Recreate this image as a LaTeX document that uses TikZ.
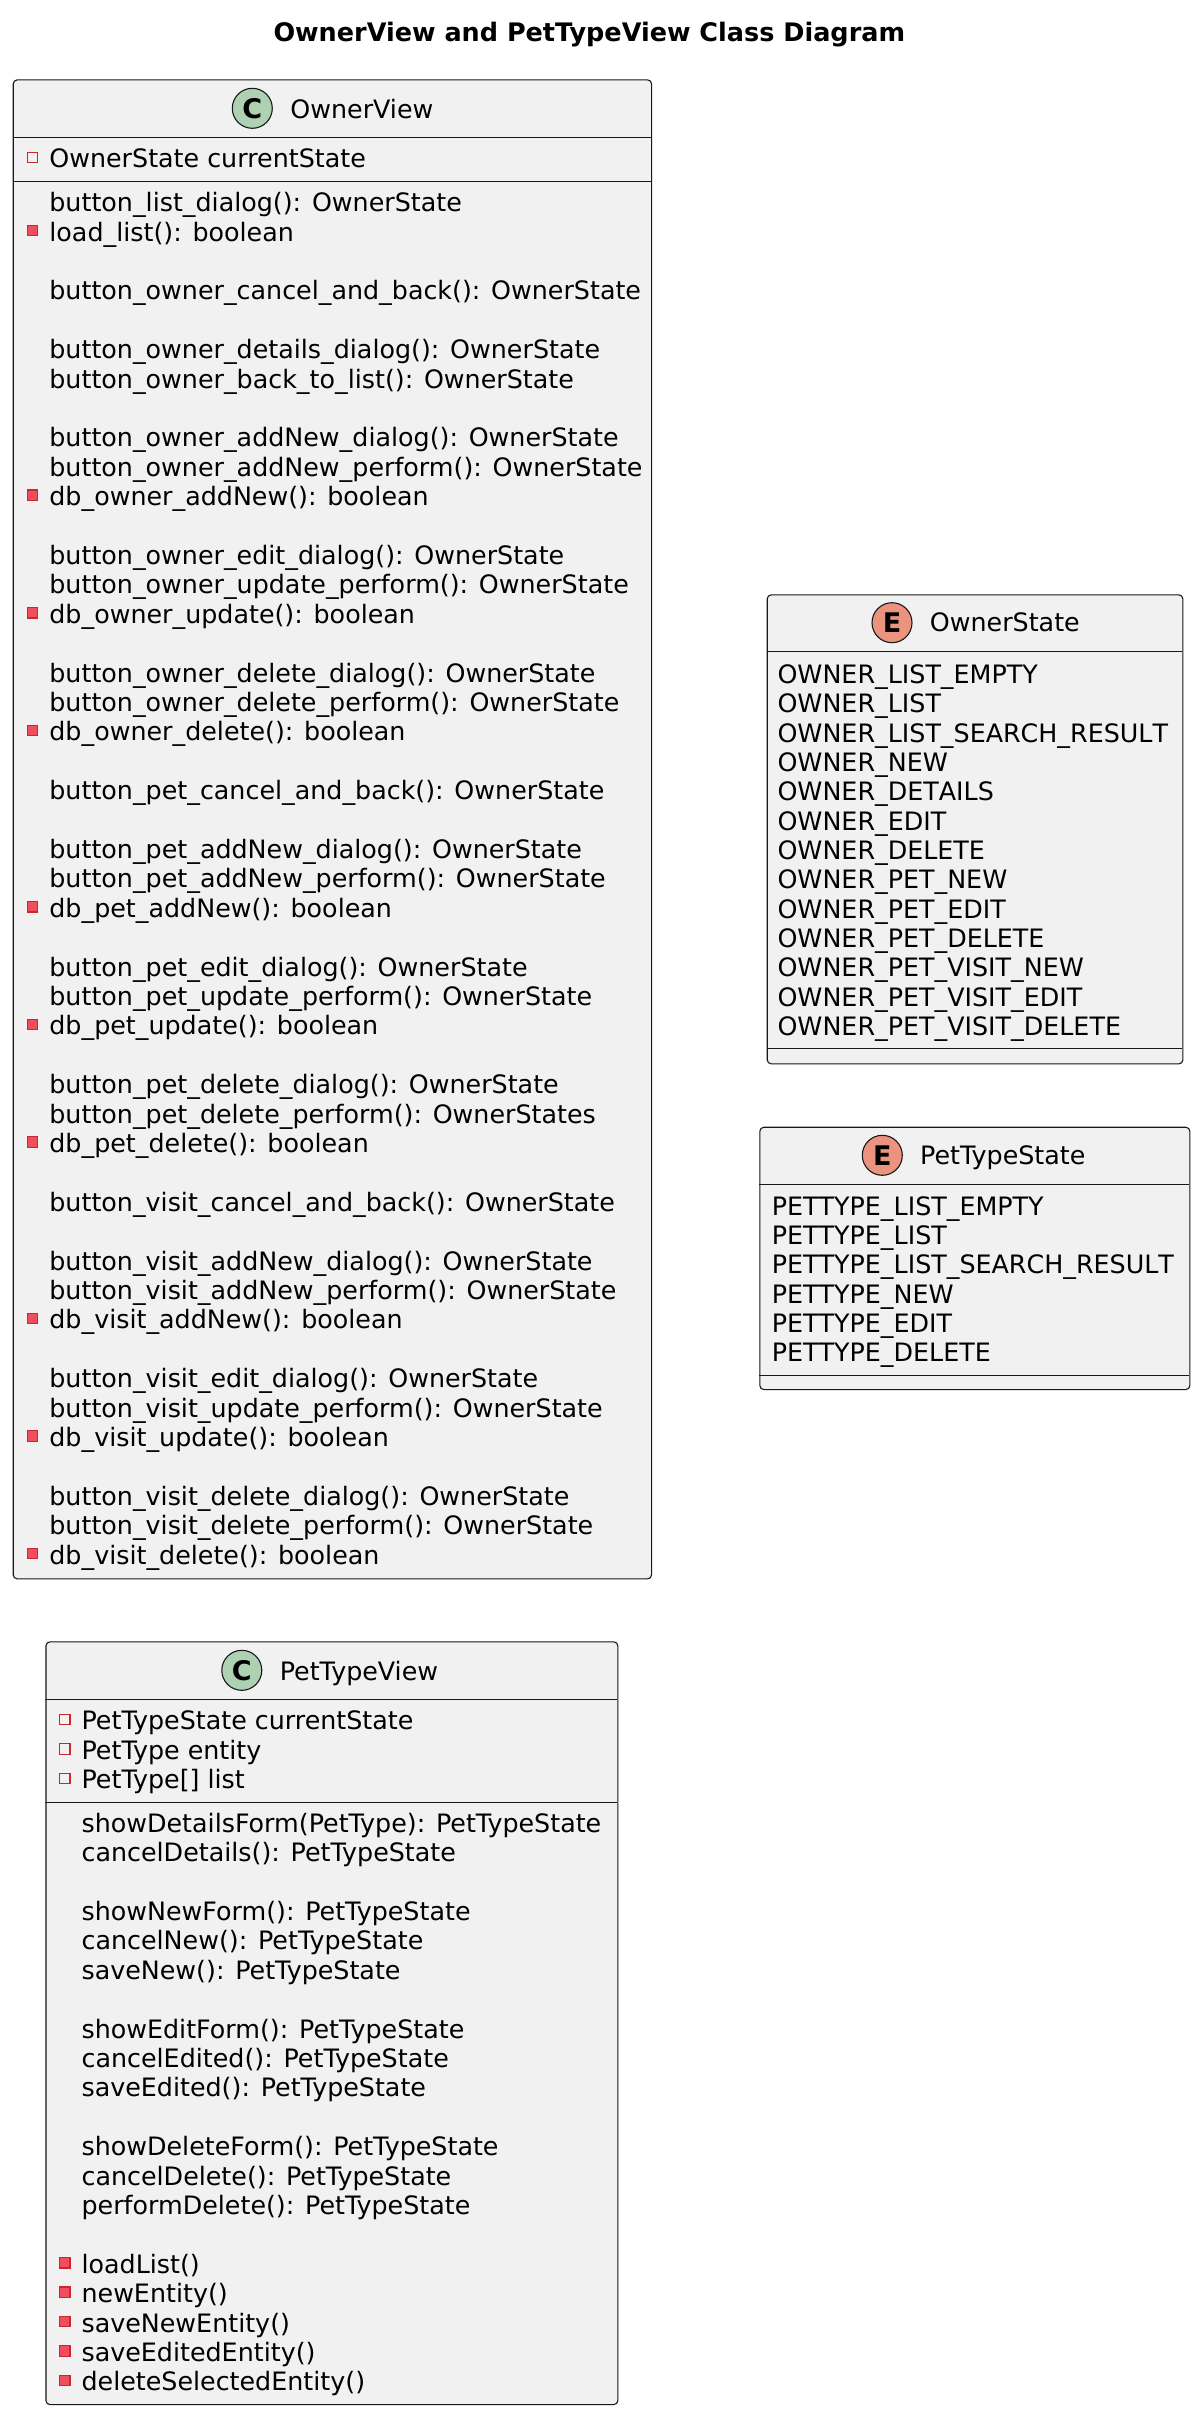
\documentclass[tikz,border=0pt]{standalone}
\usepackage{fontspec}
\setmainfont{DejaVu Sans}
\newfontfamily\enumfont{DejaVu Sans}[Kerning=Off]
\definecolor{boxfill}{HTML}{F1F1F1}
\definecolor{lineclr}{HTML}{181818}
\definecolor{privred}{HTML}{C82930}
\definecolor{privfill}{HTML}{F24D5C}
\definecolor{classgreen}{HTML}{ADD1B2}
\definecolor{enumred}{HTML}{EB937F}
\tikzset{
  umlbox/.style={draw=lineclr, fill=boxfill, line width=1.1pt, rounded corners=4pt, inner sep=0pt, anchor=north west},
  sepline/.style={draw=lineclr, line width=1pt},
  txt/.style={anchor=base west, inner sep=0pt, font=\fontsize{25.35}{29.4}\selectfont},
  enumtxt/.style={anchor=base west, inner sep=0pt, font=\fontsize{25.35}{29.4}\enumfont},
  titletxt/.style={anchor=base, inner sep=0pt, font=\fontsize{25.5}{29.4}\selectfont\bfseries},
  privf/.style={draw=privred, line width=1.2pt, fill=none},
  privm/.style={draw=privred, line width=1.2pt, fill=privfill},
  ccircle/.style={circle, draw=lineclr, line width=1.1pt, fill=classgreen, minimum size=40pt, inner sep=0pt},
  ecircle/.style={circle, draw=lineclr, line width=1.1pt, fill=enumred, minimum size=40pt, inner sep=0pt},
  letter/.style={inner sep=0pt, font=\fontsize{27}{27}\selectfont\bfseries}
}
\begin{document}
\begin{tikzpicture}[x=1pt,y=-1pt]
\fill[white] (0,0) rectangle (1200,2415);
\useasboundingbox (0,0) rectangle (1200,2415);

% title
\node[titletxt] (title) at (589.3,41.5) {OwnerView and PetTypeView Class Diagram};

% ===== OwnerView =====
\node[umlbox, minimum width=638.3pt, minimum height=1499pt] (ov) at (12.7,79.3) {};
\draw[sepline] (12.7,137.5) -- (651,137.5);
\draw[sepline] (12.7,181.5) -- (651,181.5);
\node[ccircle] (ovc) at (252.3,108.3) {};
\node[letter] (ovcl) at (ovc.center) {C};
\node[txt] (ovname) at (290.2,118.3) {OwnerView};
\draw[privf] (27.3,152.3) rectangle ++(10.4,10.4);
\node[txt] (ova1) at (49.2,167.7) {OwnerState currentState};
\foreach \i/\t in {
  0/button\_list\_dialog(): OwnerState,
  3/button\_owner\_cancel\_and\_back(): OwnerState,
  5/button\_owner\_details\_dialog(): OwnerState,
  6/button\_owner\_back\_to\_list(): OwnerState,
  8/button\_owner\_addNew\_dialog(): OwnerState,
  9/button\_owner\_addNew\_perform(): OwnerState,
  12/button\_owner\_edit\_dialog(): OwnerState,
  13/button\_owner\_update\_perform(): OwnerState,
  16/button\_owner\_delete\_dialog(): OwnerState,
  17/button\_owner\_delete\_perform(): OwnerState,
  20/button\_pet\_cancel\_and\_back(): OwnerState,
  22/button\_pet\_addNew\_dialog(): OwnerState,
  23/button\_pet\_addNew\_perform(): OwnerState,
  26/button\_pet\_edit\_dialog(): OwnerState,
  27/button\_pet\_update\_perform(): OwnerState,
  30/button\_pet\_delete\_dialog(): OwnerState,
  31/button\_pet\_delete\_perform(): OwnerStates,
  34/button\_visit\_cancel\_and\_back(): OwnerState,
  36/button\_visit\_addNew\_dialog(): OwnerState,
  37/button\_visit\_addNew\_perform(): OwnerState,
  40/button\_visit\_edit\_dialog(): OwnerState,
  41/button\_visit\_update\_perform(): OwnerState,
  44/button\_visit\_delete\_dialog(): OwnerState,
  45/button\_visit\_delete\_perform(): OwnerState}
  {\node[txt] (ovm\i) at (49.2,211.7+\i*29.4) {\t};}
\foreach \i/\t in {
  1/load\_list(): boolean,
  10/db\_owner\_addNew(): boolean,
  14/db\_owner\_update(): boolean,
  18/db\_owner\_delete(): boolean,
  24/db\_pet\_addNew(): boolean,
  28/db\_pet\_update(): boolean,
  32/db\_pet\_delete(): boolean,
  38/db\_visit\_addNew(): boolean,
  42/db\_visit\_update(): boolean,
  46/db\_visit\_delete(): boolean}
  {\draw[privm] (27.3,211.7+\i*29.4-15.7) rectangle ++(10.4,10.4);
   \node[txt] (ovm\i) at (49.2,211.7+\i*29.4) {\t};}

% ===== OwnerState =====
\node[umlbox, minimum width=415.6pt, minimum height=469pt] (os) at (766.7,594.3) {};
\draw[sepline] (766.7,651.5) -- (1182.3,651.5);
\draw[sepline] (766.7,1048.5) -- (1182.3,1048.5);
\node[ecircle] (osc) at (892,622.7) {};
\node[letter] (oscl) at (osc.center) {E};
\node[txt] (osname) at (929.7,631.7) {OwnerState};
\foreach \i/\t in {
  0/OWNER\_LIST\_EMPTY,
  1/OWNER\_LIST,
  2/OWNER\_LIST\_SEARCH\_RESULT,
  3/OWNER\_NEW,
  4/OWNER\_DETAILS,
  5/OWNER\_EDIT,
  6/OWNER\_DELETE,
  7/OWNER\_PET\_NEW,
  8/OWNER\_PET\_EDIT,
  9/OWNER\_PET\_DELETE,
  10/OWNER\_PET\_VISIT\_NEW,
  11/OWNER\_PET\_VISIT\_EDIT,
  12/OWNER\_PET\_VISIT\_DELETE}
  {\node[enumtxt] (osv\i) at (777.3,683.3+\i*29.35) {\t};}

% ===== PetTypeState =====
\node[umlbox, minimum width=430pt, minimum height=262.3pt] (ps) at (759.3,1126.7) {};
\draw[sepline] (759.3,1184.5) -- (1189.3,1184.5);
\draw[sepline] (759.3,1375.5) -- (1189.3,1375.5);
\node[ecircle] (psc) at (882.3,1155.3) {};
\node[letter] (pscl) at (psc.center) {E};
\node[txt] (psname) at (920,1164.3) {PetTypeState};
\foreach \i/\t in {
  0/PETTYPE\_LIST\_EMPTY,
  1/PETTYPE\_LIST,
  2/PETTYPE\_LIST\_SEARCH\_RESULT,
  3/PETTYPE\_NEW,
  4/PETTYPE\_EDIT,
  5/PETTYPE\_DELETE}
  {\node[enumtxt] (psv\i) at (771.7,1215+\i*29.34) {\t};}

% ===== PetTypeView =====
\node[umlbox, minimum width=571.9pt, minimum height=762.7pt] (pv) at (45.4,1641.3) {};
\draw[sepline] (45.4,1699.5) -- (617.3,1699.5);
\draw[sepline] (45.4,1802.5) -- (617.3,1802.5);
\node[ccircle] (pvc) at (241.8,1670.3) {};
\node[letter] (pvcl) at (pvc.center) {C};
\node[txt] (pvname) at (279.6,1680.3) {PetTypeView};
\draw[privf] (59.5,1729.7-15.4) rectangle ++(10.4,10.4);
\node[txt] (pva1) at (81.4,1729.7) {PetTypeState currentState};
\draw[privf] (59.5,1759.1-15.4) rectangle ++(10.4,10.4);
\node[txt] (pva2) at (81.4,1759.1) {PetType entity};
\draw[privf] (59.5,1788.5-15.4) rectangle ++(10.4,10.4);
\node[txt] (pva3) at (81.4,1788.5) {PetType[] list};
\foreach \i/\t in {
  0/showDetailsForm(PetType): PetTypeState,
  1/cancelDetails(): PetTypeState,
  3/showNewForm(): PetTypeState,
  4/cancelNew(): PetTypeState,
  5/saveNew(): PetTypeState,
  7/showEditForm(): PetTypeState,
  8/cancelEdited(): PetTypeState,
  9/saveEdited(): PetTypeState,
  11/showDeleteForm(): PetTypeState,
  12/cancelDelete(): PetTypeState,
  13/performDelete(): PetTypeState}
  {\node[txt] (pvm\i) at (81.4,1832.3+\i*29.4) {\t};}
\foreach \i/\t in {
  15/loadList(),
  16/newEntity(),
  17/saveNewEntity(),
  18/saveEditedEntity(),
  19/deleteSelectedEntity()}
  {\draw[privm] (59.5,1832.3+\i*29.4-15.7) rectangle ++(10.4,10.4);
   \node[txt] (pvm\i) at (81.4,1832.3+\i*29.4) {\t};}
\end{tikzpicture}
\end{document}
